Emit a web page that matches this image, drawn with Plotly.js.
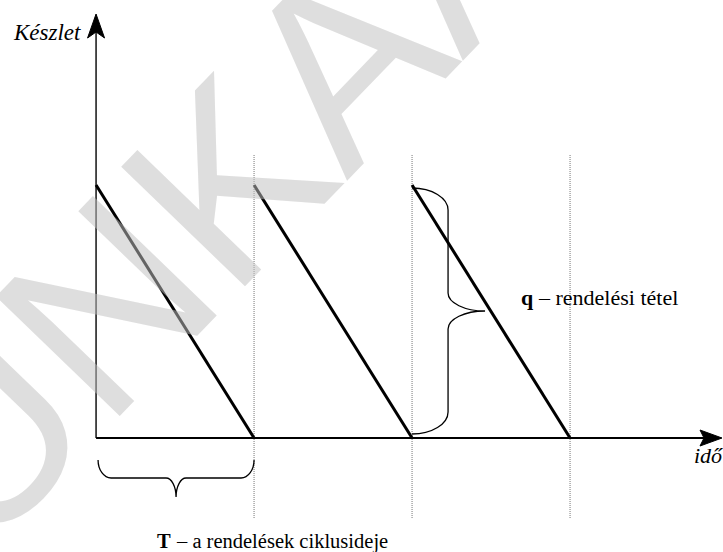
<!DOCTYPE html>
<html>
<head>
<meta charset="utf-8">
<script src="https://cdn.plot.ly/plotly-3.0.1.min.js"></script>
<style>html,body{margin:0;padding:0;background:#fff;}#chart{width:723px;height:552px;}</style>
</head>
<body>
<div id="chart"></div>
<script>
// ---- data (units: T = one order cycle, q = one order quantity) ----
const cycleStart = [0, 1, 2];
const cycleEnd   = [1, 2, 3];
const stockTop   = [1, 1, 1];
const stockEnd   = [0, 0, 0];
const orderTimes = [1, 2, 3];
const labelY = 'Készlet';
const labelX = 'idő';
const symQ = 'q', labelQ = '– rendelési tétel';
const symT = 'T', labelT = '– a rendelések ciklusideje';
const watermark = 'MUNKAANYAG';

// ---- view ----
const W = 723, H = 552;
const xRange = [-0.608, 3.968];
const yRange = [-0.4506, 1.7312];
const px = W / (xRange[1] - xRange[0]);
const py = H / (yRange[1] - yRange[0]);
const dx = p => p / px;
const dy = p => p / py;

const sx = [], sy = [];
for (let i = 0; i < cycleStart.length; i++) {
  sx.push(cycleStart[i], cycleEnd[i], null);
  sy.push(stockTop[i], stockEnd[i], null);
}

const traces = [{
  x: sx, y: sy, mode: 'lines', type: 'scatter',
  line: {color: '#000', width: 3}, hoverinfo: 'skip', connectgaps: false
}];

function pt(x, y) { return x + ',' + y; }
function qHV(P, Q) {
  return 'C' + pt(P[0] + 0.55 * (Q[0] - P[0]), P[1]) + ' ' + pt(Q[0], Q[1] + 0.55 * (P[1] - Q[1])) + ' ' + pt(Q[0], Q[1]);
}
function qVH(P, Q) {
  return 'C' + pt(P[0], P[1] + 0.55 * (Q[1] - P[1])) + ' ' + pt(Q[0] + 0.55 * (P[0] - Q[0]), Q[1]) + ' ' + pt(Q[0], Q[1]);
}
function hBrace(x0, x1, yTop) {
  const yB = yTop - dy(18), yC = yTop - dy(37);
  const r = dx(13), r2 = dx(10);
  const xm = (x0 + x1) / 2;
  let p = 'M' + pt(x0, yTop);
  p += qVH([x0, yTop], [x0 + r, yB]);
  p += 'L' + pt(xm - r2, yB);
  p += qHV([xm - r2, yB], [xm, yC]);
  p += qVH([xm, yC], [xm + r2, yB]);
  p += 'L' + pt(x1 - r, yB);
  p += qHV([x1 - r, yB], [x1, yTop]);
  return p;
}
function vBrace(x0, y0, y1) {
  const xS = x0 + dx(36), xT = x0 + dx(73);
  const ym = (y0 + y1) / 2;
  const rv = dy(22), rt = dy(18);
  let p = 'M' + pt(x0, y1);
  p += qHV([x0, y1], [xS, y1 - rv]);
  p += 'L' + pt(xS, ym + rt);
  p += qVH([xS, ym + rt], [xT, ym]);
  p += qHV([xT, ym], [xS, ym - rt]);
  p += 'L' + pt(xS, y0 + rv);
  p += qVH([xS, y0 + rv], [x0, y0]);
  return p;
}

const xEnd = xRange[1] - dx(1);
const yEnd = yRange[1] - dy(14);

const shapes = [];
orderTimes.forEach(t => shapes.push({
  type: 'line', xref: 'x', yref: 'y', x0: t, x1: t,
  y0: stockEnd[0] - dy(80), y1: stockTop[0] + dy(30),
  line: {color: '#777', width: 1, dash: '1px,1px'}, layer: 'below'
}));
shapes.push({type: 'line', xref: 'x', yref: 'y', x0: cycleStart[0], x1: xEnd - dx(8), y0: 0, y1: 0, line: {color: '#000', width: 2}});
shapes.push({type: 'line', xref: 'x', yref: 'y', x0: cycleStart[0], x1: cycleStart[0], y0: 0, y1: yEnd - dy(8), line: {color: '#000', width: 1.4}});
shapes.push({type: 'path', xref: 'x', yref: 'y', xsizemode: 'pixel', ysizemode: 'pixel',
  xanchor: xEnd, yanchor: 0, path: 'M0,0 L-22,8 L-18,0 L-22,-8 Z',
  fillcolor: '#000', line: {color: '#000', width: 1}});
shapes.push({type: 'path', xref: 'x', yref: 'y', xsizemode: 'pixel', ysizemode: 'pixel',
  xanchor: cycleStart[0], yanchor: yEnd, path: 'M0,0 L-8.5,-24 L0,-18 L8.5,-24 Z',
  fillcolor: '#000', line: {color: '#000', width: 1}});
shapes.push({type: 'path', xref: 'x', yref: 'y', path: hBrace(cycleStart[0] + dx(2), cycleEnd[0], stockEnd[0] - dy(22)),
  line: {color: '#000', width: 1.3}});
shapes.push({type: 'path', xref: 'x', yref: 'y', path: vBrace(cycleStart[2], stockEnd[2] + dy(4), stockTop[2] - dy(3)),
  line: {color: '#000', width: 1.3}});

const SERIF = 'Liberation Serif';
const qX = cycleStart[2] + dx(107), qY = (stockTop[2] + stockEnd[2]) / 2 + dy(14);
const tX = cycleStart[0] + dx(59), tY = yRange[0] + dy(11);
function txt(text, x, y, anchor, size, style, weight) {
  return {text: text, x: x, y: y, xref: 'x', yref: 'y', showarrow: false,
    xanchor: anchor, yanchor: 'middle',
    font: {family: SERIF, size: size, color: '#000', style: style || 'normal', weight: weight || 'normal'}};
}
const annotations = [
  {text: watermark, x: cycleStart[0] + dx(288), y: stockEnd[0] + dy(421), xref: 'x', yref: 'y', showarrow: false,
   textangle: -46, xanchor: 'center', yanchor: 'middle',
   font: {family: 'Liberation Sans', size: 250, color: 'rgba(192,192,192,0.52)'}},
  txt(labelY, cycleStart[0] - dx(13), yRange[1] - dy(32), 'right', 23, 'italic'),
  txt(labelX, xRange[1] - dx(31), -dy(17), 'left', 22, 'italic'),
  txt(symQ, qX, qY, 'left', 22, 'normal', 'bold'),
  txt(labelQ, qX + dx(17), qY, 'left', 22),
  txt(symT, tX, tY, 'left', 20.5, 'normal', 'bold'),
  txt(labelT, tX + dx(19), tY, 'left', 20.5)
];

const layout = {
  width: W, height: H,
  margin: {l: 0, r: 0, t: 0, b: 0, pad: 0},
  font: {family: SERIF, color: '#000'},
  paper_bgcolor: '#fff', plot_bgcolor: '#fff',
  showlegend: false,
  xaxis: {range: xRange, visible: false, fixedrange: true},
  yaxis: {range: yRange, visible: false, fixedrange: true},
  shapes: shapes,
  annotations: annotations
};
Plotly.newPlot('chart', traces, layout, {displayModeBar: false, staticPlot: true});
</script>
</body>
</html>
